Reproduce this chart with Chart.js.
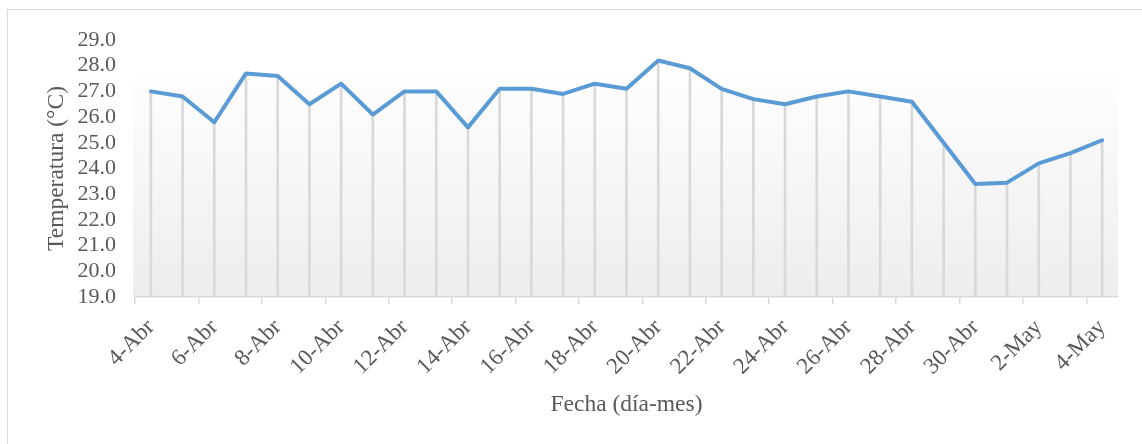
<!DOCTYPE html>
<html lang="es">
<head>
<meta charset="UTF-8">
<title>Temperatura diaria</title>
<script src="https://cdn.jsdelivr.net/npm/chart.js"></script>
<style>
  html, body { margin: 0; padding: 0; background: #fff; overflow: hidden; }
  #wrap { position: relative; width: 1142px; height: 444px; }
  #frame { position: absolute; left: 7px; top: 9px; width: 1300px; height: 600px;
           border: 1.5px solid #d9d9d9; }
  #chart { position: absolute; left: 0; top: 0; }
</style>
</head>
<body>
<div id="wrap">
  <div id="frame"></div>
  <canvas id="chart" width="1142" height="444"></canvas>
</div>
<script>
// Fechas (día-mes)
const fechas = [
  '4-Abr', '5-Abr', '6-Abr', '7-Abr', '8-Abr', '9-Abr', '10-Abr', '11-Abr',
  '12-Abr', '13-Abr', '14-Abr', '15-Abr', '16-Abr', '17-Abr', '18-Abr', '19-Abr',
  '20-Abr', '21-Abr', '22-Abr', '23-Abr', '24-Abr', '25-Abr', '26-Abr', '27-Abr',
  '28-Abr', '29-Abr', '30-Abr', '1-May', '2-May', '3-May', '4-May'
];

// Temperatura media diaria (°C)
const temperatura = [
  27.0, 26.8, 25.8, 27.7, 27.6, 26.5, 27.3, 26.1,
  27.0, 27.0, 25.6, 27.1, 27.1, 26.9, 27.3, 27.1,
  28.2, 27.9, 27.1, 26.7, 26.5, 26.8, 27.0, 26.8,
  26.6, 25.0, 23.4, 23.45, 24.2, 24.6, 25.1
];

const yMin = 19;
const yMax = 29;

const textColor = '#595959';
const gridColor = '#d9d9d9';
const serif = 'Liberation Serif';

// light vertical gradient behind the plot
const plotFill = {
  id: 'plotFill',
  beforeDraw(chart) {
    const { ctx, chartArea: a } = chart;
    const start = a.top + (a.bottom - a.top) * 0.135;
    const g = ctx.createLinearGradient(0, start, 0, a.bottom);
    g.addColorStop(0, '#fefefe');
    g.addColorStop(1, '#ededed');
    ctx.save();
    ctx.fillStyle = g;
    ctx.fillRect(a.left - 2, start, a.right - a.left + 2, a.bottom - start);
    ctx.restore();
  }
};

new Chart(document.getElementById('chart'), {
  type: 'bar',
  data: {
    labels: fechas,
    datasets: [
      {
        // line of the series
        type: 'line',
        data: temperatura,
        borderColor: '#5b9bd5',
        borderWidth: 4,
        borderJoinStyle: 'round',
        borderCapStyle: 'round',
        pointRadius: 0,
        tension: 0,
        fill: false,
        order: 1
      },
      {
        // drop lines down to the axis
        type: 'bar',
        data: temperatura,
        backgroundColor: gridColor,
        barThickness: 2,
        order: 2
      }
    ]
  },
  plugins: [plotFill],
  options: {
    responsive: false,
    animation: false,
    layout: { padding: { left: 0, top: 40, right: 24, bottom: 0 } },
    plugins: {
      legend: { display: false },
      tooltip: { enabled: false }
    },
    scales: {
      x: {
        offset: true,
        grid: {
          offset: true,
          drawOnChartArea: false,
          tickLength: 7,
          lineWidth: 1.5,
          color: ctx => ctx.index % 2 === 0 ? gridColor : 'rgba(0,0,0,0)'
        },
        border: { color: gridColor, width: 1.5 },
        ticks: {
          autoSkip: false,
          minRotation: 45,
          maxRotation: 45,
          padding: 10,
          color: textColor,
          font: { family: serif, size: 23 },
          callback: (v, i) => i % 2 === 0 ? fechas[i] : ''
        },
        title: {
          display: true,
          text: 'Fecha (día-mes)',
          color: textColor,
          font: { family: serif, size: 23.5 },
          padding: { top: 0, bottom: 25 }
        },
        afterFit: scale => { scale.height = 147; }
      },
      y: {
        min: yMin,
        max: yMax,
        grid: { display: false, drawTicks: false },
        border: { display: false },
        ticks: {
          stepSize: 1,
          autoSkip: false,
          padding: 19,
          color: textColor,
          font: { family: serif, size: 22 },
          callback: v => v.toFixed(1)
        },
        title: {
          display: true,
          text: 'Temperatura (°C)',
          color: textColor,
          font: { family: serif, size: 23.5 },
          padding: { top: 43, bottom: 0 }
        },
        afterFit: scale => { scale.width = 135; }
      }
    }
  }
});
</script>
</body>
</html>
